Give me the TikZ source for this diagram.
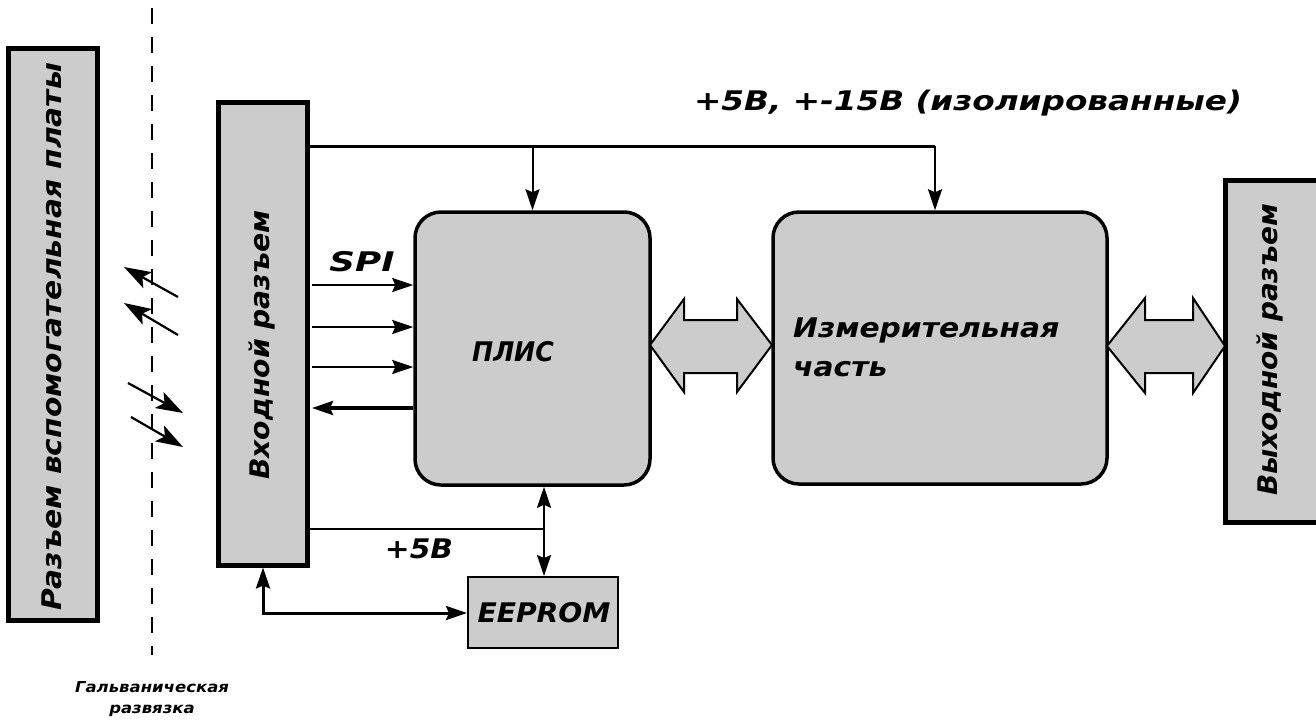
\documentclass[tikz,border=0pt]{standalone}
\usepackage{fontspec}
\setmainfont{DejaVu Sans}[FakeStretch=1.1]
\usetikzlibrary{arrows.meta}
\definecolor{boxgray}{RGB}{204,204,204}
\begin{document}
\begin{tikzpicture}[x=1pt,y=-1pt,
  lbl/.style={font=\fontsize{27}{30}\selectfont\bfseries\itshape, inner sep=0pt},
  small/.style={font=\fontsize{15}{17}\selectfont\bfseries\itshape, inner sep=0pt},
  thickbox/.style={draw, fill=boxgray, line width=5pt, inner sep=0pt},
  roundbox/.style={draw, fill=boxgray, line width=3.5pt, rounded corners=26pt, inner sep=0pt},
  thinbox/.style={draw, fill=boxgray, line width=2pt, inner sep=0pt},
  conn/.style={line width=2pt},
  arr/.style={line width=2pt, -{Stealth[length=21pt,width=14pt,inset=3pt]}},
  arrb/.style={line width=3pt, {Stealth[length=21pt,width=14pt,inset=3pt]}-{Stealth[length=21pt,width=14pt,inset=3pt]}},
  opt/.style={line width=2.2pt, -{Stealth[length=27pt,width=18pt,inset=6pt]}},
  blockarrow/.style={draw, fill=boxgray, line width=2pt, line join=miter}
]
\useasboundingbox (0,0) rectangle (1316,721);
\fill[white] (0,0) rectangle (1316,721);

% boxes
\node[thickbox, minimum width=89pt, minimum height=572pt] (aux) at (52.5,334) {};
\node[lbl, rotate=90] (auxt) at (52,337) {Разъем вспомогательная платы};

\node[thickbox, minimum width=89pt, minimum height=463pt] (inbox) at (262.5,333.5) {};
\node[lbl, rotate=90] (inboxt) at (262,345) {\scalebox{0.95}[1]{Входной разъем}};

\node[roundbox, minimum width=235pt, minimum height=273pt] (plis) at (532.5,348.5) {};
\node[lbl] (plist) at (513,352) {\scalebox{0.85}[1]{ПЛИС}};

\node[roundbox, minimum width=334pt, minimum height=272pt] (meas) at (940,348) {};
\node[lbl, anchor=west] (meast1) at (793,330) {Измерительная};
\node[lbl, anchor=west] (meast2) at (793,369) {часть};

\node[thickbox, minimum width=96pt, minimum height=342pt] (outbox) at (1273,351) {};
\node[lbl, rotate=90] (outboxt) at (1270,350) {\scalebox{0.94}[1]{Выходной разъем}};

\node[thinbox, minimum width=150pt, minimum height=71pt] (eeprom) at (543,612.5) {};
\node[lbl] (eepromt) at (544,613) {\scalebox{0.95}[1]{EEPROM}};

% labels
\node[lbl] (toplbl) at (968,103) {\scalebox{1.1}[1]{+5В, +-15В (изолированные)}};
\node[lbl] (spi) at (362,262) {\scalebox{1.2}[1]{SPI}};
\node[lbl] (p5) at (419,549) {+5В};
\node[small] (galv1) at (152,687) {Гальваническая};
\node[small] (galv2) at (152,711) {развязка};

% isolation line
\coordinate (dtop) at (152,8);
\coordinate (dbot) at (152,655);
\draw[line width=1.5pt, dash pattern=on 16pt off 13pt] (dtop) -- (dbot);

% optical arrows
\coordinate (o1s) at (178,297); \coordinate (o1e) at (124,267);
\coordinate (o2s) at (178,335); \coordinate (o2e) at (124,303);
\coordinate (o3s) at (128,383); \coordinate (o3e) at (183,413);
\coordinate (o4s) at (131,417); \coordinate (o4e) at (183,447);
\draw[opt] (o1s) -- (o1e);
\draw[opt] (o2s) -- (o2e);
\draw[opt] (o3s) -- (o3e);
\draw[opt] (o4s) -- (o4e);

% power bus
\coordinate (pwr) at (935,146);
\draw[line width=3pt] (inbox.east |- pwr) -- (pwr);
\draw[arr] (plis.north |- pwr) -- (plis.north);
\draw[arr] (pwr) -- (pwr |- meas.north);

% SPI lines
\coordinate (s1) at (312,285);
\coordinate (s2) at (312,327);
\coordinate (s3) at (312,367);
\coordinate (s4) at (312,408);
\draw[arr] (s1) -- (s1 -| plis.west);
\draw[arr] (s2) -- (s2 -| plis.west);
\draw[arr] (s3) -- (s3 -| plis.west);
\draw[arr, line width=3.5pt] (s4 -| plis.west) -- (s4);

% EEPROM connections
\coordinate (j5) at (544,529);
\draw[conn] (inbox.east |- j5) -- (j5);
\draw[arrb, line width=2pt] (plis.south -| j5) -- (eeprom.north -| j5);
\coordinate (bl) at (263,613);
\draw[arrb] (inbox.south -| bl) -- (bl) -- (eeprom.west |- bl);

% block arrows
\draw[blockarrow] (650,345) -- (684,299) -- (684,320) -- (737,320) -- (737,299) -- (772,345)
  -- (737,392) -- (737,373) -- (684,373) -- (684,392) -- cycle;
\draw[blockarrow] (1107,346) -- (1145,298) -- (1145,320) -- (1193,320) -- (1193,298) -- (1225,346)
  -- (1193,393) -- (1193,373) -- (1145,373) -- (1145,393) -- cycle;
\end{tikzpicture}
\end{document}
